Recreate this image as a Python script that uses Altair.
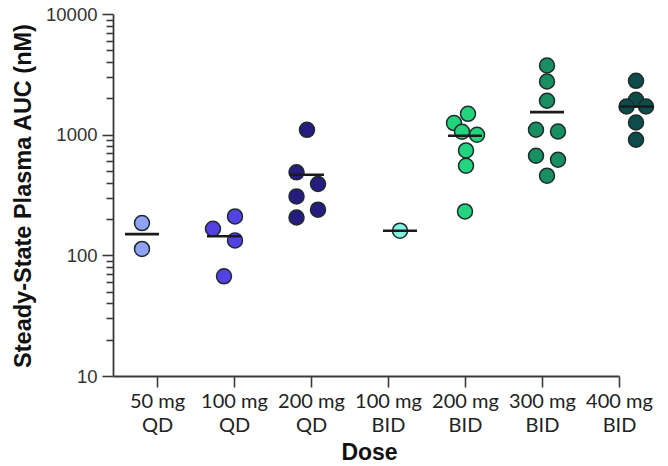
import json
import altair as alt
import pandas as pd

# ---------------- data ----------------
doses = ["50 mg QD", "100 mg QD", "200 mg QD", "100 mg BID",
         "200 mg BID", "300 mg BID", "400 mg BID"]
dose_line1 = ["50 mg", "100 mg", "200 mg", "100 mg", "200 mg", "300 mg", "400 mg"]
dose_line2 = ["QD", "QD", "QD", "BID", "BID", "BID", "BID"]

# steady-state plasma AUC (nM) of each subject, per dose group
auc_50qd = [185, 113]
auc_100qd = [166, 210, 133, 67]
auc_200qd = [1097, 487, 390, 308, 239, 206]
auc_100bid = [160]
auc_200bid = [231, 553, 740, 1248, 1057, 998, 1489]
auc_300bid = [3741, 2757, 1909, 1098, 1063, 669, 620, 457]
auc_400bid = [2794, 1945, 1711, 1711, 1262, 907]

# horizontal beeswarm spread of each subject inside its group (dose-axis units)
spread_50qd = [0, 0]
spread_100qd = [-0.143, 0.143, 0.143, 0]
spread_200qd = [0, -0.136, 0.143, -0.136, 0.143, -0.136]
spread_100bid = [0]
spread_200bid = [0, 0.013, 0.013, -0.143, -0.039, 0.156, 0.039]
spread_300bid = [0, 0, 0, -0.143, 0.143, -0.143, 0.143, 0]
spread_400bid = [0, 0, -0.123, 0.13, 0, 0]

# where each group's swarm is centred on the dose axis (as drawn)
group_pos = [0.805, 1.870, 2.948, 4.156, 5.0, 6.065, 7.221]

# horizontal summary bar of each group (nM)
summary = [150, 144, 466, 160, 980, 1538, 1711]

colors = ["#8fa2f6", "#5441e3", "#261c7f", "#86f2e2",
          "#23d47f", "#178f60", "#0e4c49"]

# ---------------- table ----------------
all_auc = [auc_50qd, auc_100qd, auc_200qd, auc_100bid, auc_200bid, auc_300bid, auc_400bid]
all_spread = [spread_50qd, spread_100qd, spread_200qd, spread_100bid,
              spread_200bid, spread_300bid, spread_400bid]
rows = []
k = 0
for g, (vals, sp) in enumerate(zip(all_auc, all_spread)):
    for v, s in zip(vals, sp):
        rows.append({"dose": doses[g], "x": group_pos[g] + s, "auc": v, "order": k})
        k += 1
pts = pd.DataFrame(rows)
med = pd.DataFrame({"dose": doses, "x": group_pos, "auc": summary})

label_arr = json.dumps([[a, b] for a, b in zip(dose_line1, dose_line2)])
major = [10, 100, 1000, 10000]
minor = [m * d for d in [10, 100, 1000] for m in range(2, 10)]
major_test = "indexof(" + json.dumps(major) + ", datum.value) >= 0"

xscale = alt.Scale(domain=[0.4286, 7], nice=False, zero=False)
yscale = alt.Scale(type="log", domain=[10, 10000], nice=False)

x_axis = alt.Axis(
    values=list(range(1, 8)),
    labelExpr=label_arr + "[datum.value - 1]",
    title="Dose",
    grid=False,
    tickSize=11,
    tickWidth=1.6,
    tickColor="#3a3a3a",
    domainColor="#3a3a3a",
    domainWidth=1.8,
    labelFont="Lato",
    labelFontSize=20,
    labelColor="#222222",
    labelLineHeight=24,
    labelPadding=4,
    labelFlush=False,
    labelOverlap=False,
    titleFont="Liberation Sans",
    titleFontSize=23,
    titleFontWeight="bold",
    titleColor="#111111",
    titleBaseline="alphabetic",
    titleY=83.5,
    titleX=256,
)

y_axis = alt.Axis(
    values=major + minor,
    format="d",
    labelExpr=major_test + " ? datum.label : ''",
    tickSize={"condition": {"test": major_test, "value": 11}, "value": 7},
    title="Steady-State Plasma AUC (nM)",
    grid=False,
    tickWidth=1.6,
    tickColor="#3a3a3a",
    domainColor="#3a3a3a",
    domainWidth=1.8,
    labelFont="Liberation Sans",
    labelFontSize=18.5,
    labelColor="#333333",
    labelPadding=5,
    labelFlush=False,
    labelOverlap=False,
    titleFont="Liberation Sans",
    titleFontSize=23.5,
    titleFontWeight="bold",
    titleColor="#111111",
    titleBaseline="middle",
    titleX=-90,
    titleY=181.5,
)

points = alt.Chart(pts).mark_circle(
    size=225, stroke="#1d2b2b", strokeWidth=1.5, opacity=1
).encode(
    x=alt.X("x:Q", scale=xscale, axis=x_axis),
    y=alt.Y("auc:Q", scale=yscale, axis=y_axis),
    fill=alt.Fill("dose:N", scale=alt.Scale(domain=doses, range=colors), legend=None),
    order=alt.Order("order:Q"),
)

bars = alt.Chart(med).mark_tick(
    orient="horizontal", size=34, thickness=2.6, color="#1a1a1a", opacity=1
).encode(
    x=alt.X("x:Q", scale=xscale),
    y=alt.Y("auc:Q", scale=yscale),
)

chart = alt.layer(points, bars).properties(
    width=506,
    height=362,
    autosize=alt.AutoSizeParams(type="none"),
    padding={"left": 113, "top": 14, "right": 49, "bottom": 90},
    background="white",
).configure_view(stroke=None)

chart.save("out.html", embed_options={"renderer": "svg", "actions": False})
